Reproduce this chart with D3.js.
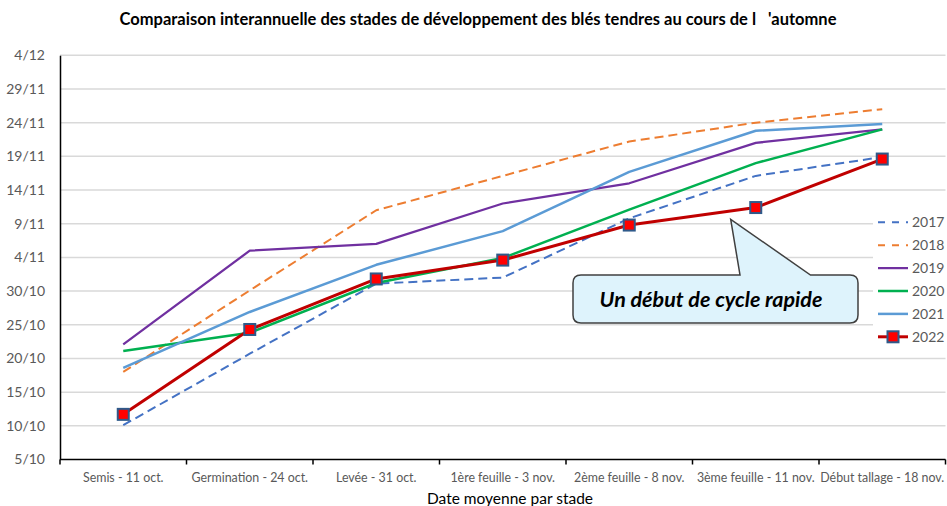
<!DOCTYPE html>
<html>
<head>
<meta charset="utf-8">
<script src="https://cdn.jsdelivr.net/npm/d3@7"></script>
<style>
  body { margin: 0; background: #fff; }
  svg { font-family: Lato, 'Liberation Sans', sans-serif; }
</style>
</head>
<body>
<div id="chart"></div>
<script>
// stades (axe X)
const stages = ["Semis - 11 oct.", "Germination - 24 oct.", "Levée - 31 oct.", "1ère feuille - 3 nov.",
  "2ème feuille - 8 nov.", "3ème feuille - 11 nov.", "Début tallage - 18 nov."];

// valeurs = jours depuis le 30 septembre (5 = 5/10, 36 = 5/11, 65 = 4/12)
const years = ["2017", "2018", "2019", "2020", "2021", "2022"];
const v2017 = [10.1, 20.7, 31.1, 32.0, 40.8, 47.1, 49.9];
const v2018 = [18.0, 30.1, 42.0, 47.1, 52.2, 55.0, 57.0];
const v2019 = [22.1, 36.0, 37.0, 43.0, 46.0, 52.0, 54.0];
const v2020 = [21.1, 23.8, 31.2, 34.9, 42.1, 49.0, 54.0];
const v2021 = [18.6, 26.9, 33.9, 38.9, 47.7, 53.8, 54.8];
const v2022 = [11.7, 24.3, 31.8, 34.6, 39.8, 42.4, 49.6];

const yTicks = [5, 10, 15, 20, 25, 30, 35, 40, 45, 50, 55, 60, 65];
const yTickLabels = ["5/10", "10/10", "15/10", "20/10", "25/10", "30/10", "4/11", "9/11", "14/11", "19/11", "24/11", "29/11", "4/12"];

const W = 947, H = 506;
const plotLeft = 60, plotRight = 945.5, plotTop = 55.3, plotBottom = 459.5;

const svg = d3.select("#chart").append("svg").attr("width", W).attr("height", H);

const x = d3.scaleBand().domain(stages).range([plotLeft, plotRight]);
const y = d3.scaleLinear().domain([5, 65]).range([plotBottom, plotTop]);
const cx = d => x(d) + x.bandwidth() / 2;

// title
svg.append("text")
  .attr("x", 478).attr("y", 25)
  .attr("text-anchor", "middle")
  .style("font-weight", "700").style("font-size", "16.5px").style("white-space", "pre")
  .attr("fill", "#000")
  .text("Comparaison interannuelle des stades de développement des blés tendres au cours de l   'automne");

// gridlines
svg.append("g").selectAll("line")
  .data(yTicks.slice(1))
  .enter().append("line")
  .attr("x1", plotLeft).attr("x2", plotRight)
  .attr("y1", d => y(d)).attr("y2", d => y(d))
  .attr("stroke", "#d9d9d9").attr("stroke-width", 1.5);

// y axis
const yAxis = svg.append("g").attr("transform", "translate(" + plotLeft + ",0)")
  .call(d3.axisLeft(y).tickValues(yTicks).tickSize(0).tickPadding(15)
    .tickFormat((d, i) => yTickLabels[i]));
yAxis.select(".domain").attr("stroke", "#000").attr("stroke-width", 1.5);
yAxis.selectAll("text").style("font-size", "14px").attr("fill", "#595959")
  .style("font-family", "Lato, 'Liberation Sans', sans-serif");

// x axis
svg.append("line")
  .attr("x1", plotLeft).attr("x2", plotRight).attr("y1", plotBottom).attr("y2", plotBottom)
  .attr("stroke", "#000").attr("stroke-width", 1.5);
svg.append("g").selectAll("line")
  .data(stages.map(d => x(d)).concat([plotRight]))
  .enter().append("line")
  .attr("x1", d => d).attr("x2", d => d)
  .attr("y1", plotBottom).attr("y2", plotBottom + 5)
  .attr("stroke", "#000").attr("stroke-width", 1.5);
svg.append("g").selectAll("text")
  .data(stages)
  .enter().append("text")
  .attr("x", d => cx(d)).attr("y", 482)
  .attr("text-anchor", "middle")
  .style("font-size", "12.4px").attr("fill", "#595959")
  .text(d => d);

svg.append("text")
  .attr("x", 510).attr("y", 503.5)
  .attr("text-anchor", "middle")
  .style("font-size", "15.5px").attr("fill", "#000")
  .text("Date moyenne par stade");

// series
const series = [
  { name: "2017", values: v2017, color: "#4472c4", width: 2, dash: "9,5" },
  { name: "2018", values: v2018, color: "#ed7d31", width: 2, dash: "9,5" },
  { name: "2019", values: v2019, color: "#7030a0", width: 2.25, dash: null },
  { name: "2020", values: v2020, color: "#00b050", width: 2.5, dash: null },
  { name: "2021", values: v2021, color: "#5b9bd5", width: 2.5, dash: null },
  { name: "2022", values: v2022, color: "#c00000", width: 3, dash: null, marker: true }
];

const line = d3.line().x((d, i) => cx(stages[i])).y(d => y(d));

series.forEach(s => {
  svg.append("path")
    .datum(s.values)
    .attr("d", line)
    .attr("fill", "none")
    .attr("stroke", s.color)
    .attr("stroke-width", s.width)
    .attr("stroke-dasharray", s.dash)
    .attr("stroke-linejoin", "round");
  if (s.marker) {
    svg.append("g").selectAll("rect")
      .data(s.values)
      .enter().append("rect")
      .attr("x", (d, i) => cx(stages[i]) - 5.5)
      .attr("y", d => y(d) - 5.5)
      .attr("width", 11).attr("height", 11)
      .attr("fill", "#ff0000").attr("stroke", "#2f5a8a").attr("stroke-width", 2);
  }
});

// legend
const lg = svg.append("g");
lg.append("rect").attr("x", 873).attr("y", 207).attr("width", 74).attr("height", 142).attr("fill", "#fff");
series.forEach((s, i) => {
  const ly = 222.3 + i * 22.9;
  lg.append("line")
    .attr("x1", 878).attr("x2", 908).attr("y1", ly).attr("y2", ly)
    .attr("stroke", s.color).attr("stroke-width", s.width)
    .attr("stroke-dasharray", s.dash ? "7,7" : null);
  if (s.marker) {
    lg.append("rect").attr("x", 887.5).attr("y", ly - 5.5).attr("width", 11).attr("height", 11)
      .attr("fill", "#ff0000").attr("stroke", "#2f5a8a").attr("stroke-width", 2);
  }
  lg.append("text")
    .attr("x", 912).attr("y", ly + 4.8)
    .style("font-size", "14px").attr("fill", "#595959")
    .text(s.name);
});

// callout
const callout = svg.append("g");
callout.append("path")
  .attr("d", "M581,275 L740,275 L730.7,219.3 L810.5,275 L850,275 Q858,275 858,283 L858,315 Q858,323 850,323 L581,323 Q573,323 573,315 L573,283 Q573,275 581,275 Z")
  .attr("fill", "#def3fc").attr("stroke", "#404040").attr("stroke-width", 1.5);
callout.append("text")
  .attr("x", 711).attr("y", 306.5)
  .attr("text-anchor", "middle")
  .style("font-size", "21.5px").style("font-weight", "700").style("font-style", "italic")
  .attr("fill", "#000")
  .text("Un début de cycle rapide");
</script>
</body>
</html>
